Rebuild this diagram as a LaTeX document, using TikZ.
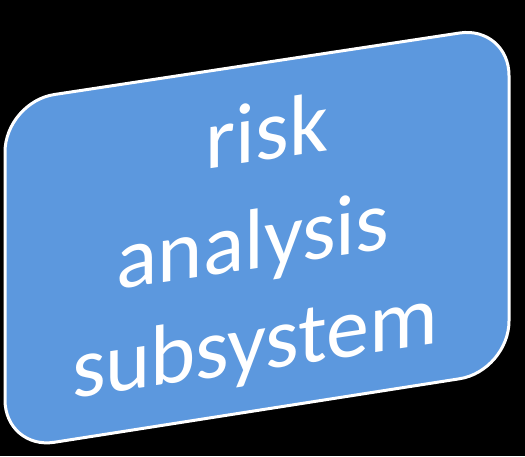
\documentclass[tikz,border=0pt]{standalone}
\usepackage{fontspec}
\setmainfont{Carlito}
\definecolor{boxblue}{RGB}{92,152,222}
\begin{document}
\begin{tikzpicture}[x=1pt,y=1pt,
  panel/.style={fill=boxblue,draw=white,line width=3pt,rounded corners=50pt},
  label/.style={text=white,font=\fontsize{86}{100}\selectfont,anchor=base,inner sep=0pt,yslant=0.152}]
\fill[black] (0,0) rectangle (525,-456);
\useasboundingbox (0,0) rectangle (525,-456);
\draw[panel] (5,-102) -- (509,-25.5) -- (509,-371) -- (5,-450) -- cycle;
\node[label] (n1) at (267,-160) {risk};
\node[label] (n2) at (253,-269) {analysis};
\node[label] (n3) at (255,-371) {subsystem};
\end{tikzpicture}
\end{document}
